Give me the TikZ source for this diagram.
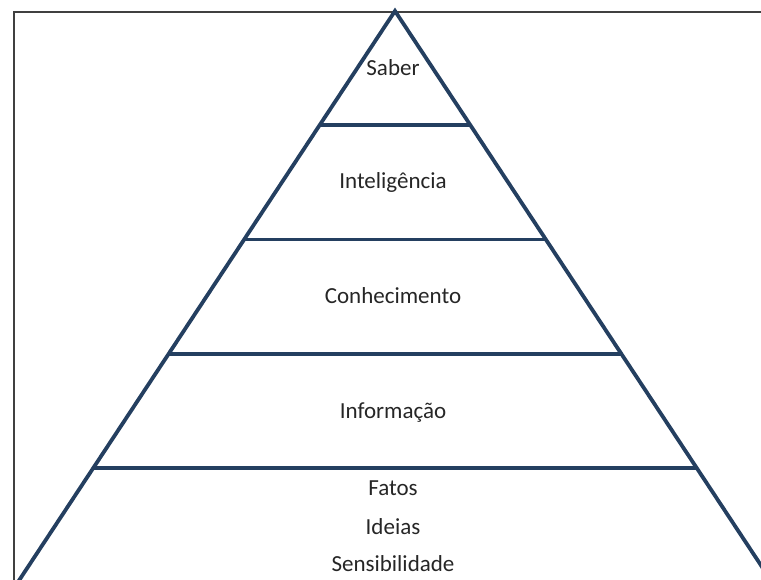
\documentclass[tikz,border=0pt]{standalone}
\usepackage{fontspec}
\setmainfont{Carlito}
\usetikzlibrary{calc}
\begin{document}
\begin{tikzpicture}[x=1pt,y=-1pt]
  \definecolor{pyramidcolor}{HTML}{243F60}
  \tikzset{layer/.style={anchor=base,inner sep=0pt,text=black!85,font=\fontsize{23}{27}\selectfont}}
  \useasboundingbox (0,0) rectangle (761,579);
  \clip (0,0) rectangle (761,579);
  \coordinate (apex) at (395,11);
  \coordinate (baseL) at (18,582);
  \coordinate (baseR) at (772,582);
  \draw [black!75,line width=1.5pt] (14,600) -- (14,12) -- (780,12);
  \draw [pyramidcolor,line width=3.8pt,line join=miter] (baseL) -- (apex) -- (baseR);
  \foreach \t in {0.2,0.4,0.6,0.8}
    \draw [pyramidcolor,line width=3.8pt] ($(apex)!\t!(baseL)$) -- ($(apex)!\t!(baseR)$);
  \node [layer] (saber) at (393,75) {Saber};
  \node [layer] (inteligencia) at (393,188) {Inteligência};
  \node [layer] (conhecimento) at (393,303) {Conhecimento};
  \node [layer] (informacao) at (393,418) {Informação};
  \node [layer] (fatos) at (393,495) {Fatos};
  \node [layer] (ideias) at (393,534) {Ideias};
  \node [layer] (sensibilidade) at (393,571) {Sensibilidade};
\end{tikzpicture}
\end{document}
